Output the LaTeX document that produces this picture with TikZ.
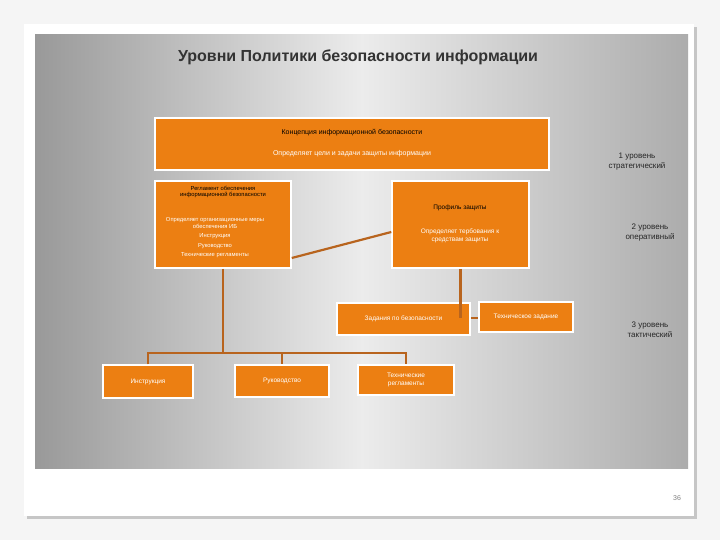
\documentclass[tikz,border=0pt]{standalone}
\usepackage{fontspec}
\setmainfont{Liberation Sans}
\definecolor{org}{HTML}{EC7F12}
\definecolor{lnk}{HTML}{B8641E}
\begin{document}
\begin{tikzpicture}[x=1pt,y=-1pt,
 box/.style={draw=white,line width=1.5pt,fill=org,inner sep=1pt,align=center,font=\fontsize{6.5}{8}\selectfont,text=white},
 lev/.style={align=center,font=\fontsize{8}{10}\selectfont,text=black!85},
 link/.style={draw=lnk,line width=2.2pt}]
\useasboundingbox (0,0) rectangle (720,540);
\fill[gray!8] (0,0) rectangle (720,540);
\fill[gray!45] (27,27) rectangle (697,519);
\fill[white] (24,24) rectangle (694,516);
\shade[left color=gray!80,right color=gray!65,middle color=gray!15] (35,35) rectangle (688,468);
\node[font=\bfseries\fontsize{16}{18}\selectfont,text=black!80] (title) at (358,57) {Уровни Политики безопасности информации};
\node[font=\fontsize{7}{8}\selectfont,text=gray] (pg) at (677,498) {36};
\node[box,minimum width=394,minimum height=52] (conc) at (352,144) {};
\node[font=\fontsize{7}{8}\selectfont,text=black] (c1) at (352,133) {Концепция информационной безопасности};
\node[font=\fontsize{7}{8}\selectfont,text=white] (c2) at (352,154) {Определяет цели и задачи защиты информации};
\node[box,minimum width=136,minimum height=87] (reg) at (223,224.5) {};
\node[font=\fontsize{5.8}{6.5}\selectfont,align=center,text=black] (r1) at (223,192) {Регламент обеспечения\\информационной безопасности};
\node[font=\fontsize{5.8}{9.5}\selectfont,align=center,text=white] (r2) at (215,238) {Определяет организационные меры\\[-3pt]обеспечения ИБ\\Инструкция\\Руководство\\Технические регламенты};
\node[box,minimum width=137,minimum height=87] (prof) at (460.5,224.5) {};
\node[font=\fontsize{6.5}{7.5}\selectfont,text=black] (p1) at (460,208) {Профиль защиты};
\node[font=\fontsize{6.5}{7.5}\selectfont,align=center,text=white] (p2) at (460,236) {Определяет тербования к\\средствам защиты};
\node[box,minimum width=133,minimum height=32] (zad) at (403.5,319) {Задания по безопасности};
\node[box,minimum width=94,minimum height=30] (tz) at (526,317) {Техническое задание};
\node[box,minimum width=90,minimum height=33] (ins) at (148,381.5) {Инструкция};
\node[box,minimum width=94,minimum height=32] (ruk) at (282,381) {Руководство};
\node[box,minimum width=96,minimum height=30] (tr) at (406,380) {Технические\\регламенты};
\node[lev] (l1) at (637,162) {1 уровень\\стратегический};
\node[lev] (l2) at (650,233) {2 уровень\\оперативный};
\node[lev] (l3) at (650,330) {3 уровень\\тактический};
\draw[link] (reg.east |- 0,258) -- (prof.west |- 0,232);
\coordinate (k) at (prof.south |- 0,318);
\draw[link] (prof.south) -- (k);
\draw[link] (zad.east |- k) -- (tz.west |- k);
\coordinate (j) at (223,353);
\draw[link] (reg.south) -- (j);
\draw[link] (ins.north) -- (ins.north |- j) -- (tr.north |- j) -- (tr.north);
\draw[link] (ruk.north |- j) -- (ruk.north);
\end{tikzpicture}
\end{document}
